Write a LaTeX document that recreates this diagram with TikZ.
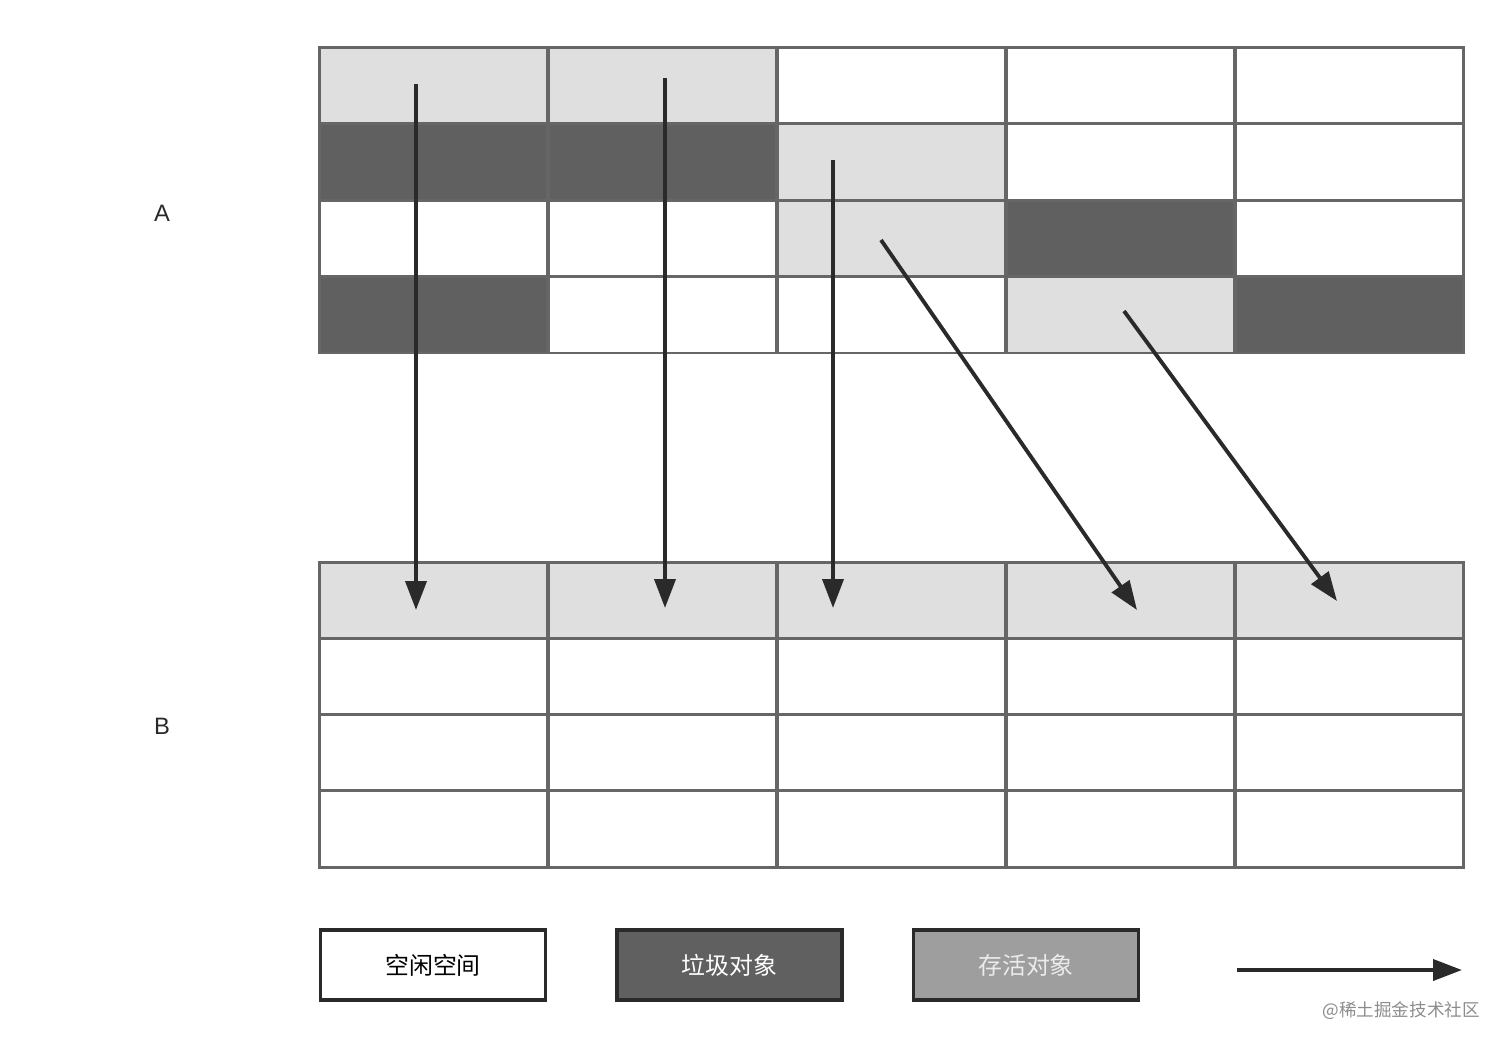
\documentclass[tikz,border=0pt]{standalone}
\usepackage{fontspec}
\setmainfont{Liberation Sans}
\newfontfamily\cjk{Noto Sans CJK SC}
\usetikzlibrary{arrows.meta}
\definecolor{freecol}{HTML}{FFFFFF}
\definecolor{garbcol}{HTML}{606060}
\definecolor{livecol}{HTML}{DFDFDF}
\definecolor{keepcol}{HTML}{9E9E9E}
\definecolor{gridcol}{HTML}{666666}
\definecolor{movecol}{HTML}{2A2A2A}
\tikzset{
  cell/.style={draw=gridcol, line width=1.7pt, minimum width=4.58cm, minimum height=1.53cm, inner sep=0pt},
  keybox/.style={draw=movecol, line width=2.2pt, minimum width=4.5cm, minimum height=1.4cm, inner sep=0pt, font=\cjk\fontsize{13.6pt}{16pt}\selectfont},
  move/.style={draw=movecol, line width=2.2pt, -{Triangle[length=0.58cm, width=0.42cm]}},
  region/.style={font=\fontsize{13.5pt}{16pt}\selectfont, text=movecol}
}
\begin{document}
\begin{tikzpicture}[x=0.02cm, y=-0.02cm]
\useasboundingbox (0,0) rectangle (1512,1049);

% A
\foreach \r/\list in {1/{livecol,livecol,freecol,freecol,freecol},
                      2/{garbcol,garbcol,livecol,freecol,freecol},
                      3/{freecol,freecol,livecol,garbcol,freecol},
                      4/{garbcol,freecol,freecol,livecol,garbcol}}
  \foreach \k [count=\c] in \list
    \node[cell, fill=\k] (A-\r-\c) at ({319+229*(\c-0.5)}, {47+76.5*(\r-0.5)}) {};

% B
\foreach \r/\list in {1/{livecol,livecol,livecol,livecol,livecol},
                      2/{freecol,freecol,freecol,freecol,freecol},
                      3/{freecol,freecol,freecol,freecol,freecol},
                      4/{freecol,freecol,freecol,freecol,freecol}}
  \foreach \k [count=\c] in \list
    \node[cell, fill=\k] (B-\r-\c) at ({319+229*(\c-0.5)}, {563+76*(\r-0.5)}) {};

\node[region] (labA) at (162,213) {A};
\node[region] (labB) at (162,726) {B};

% moves
\coordinate (from1) at (416,84);
\coordinate (to1) at (416,610);
\coordinate (from2) at (665,78);
\coordinate (to2) at (665,608);
\coordinate (from3) at (833,160);
\coordinate (to3) at (833,608);
\coordinate (from4) at (881,240);
\coordinate (to4) at (1137,610);
\coordinate (from5) at (1124,311);
\coordinate (to5) at (1337,601);
\foreach \i in {1,...,5}
  \draw[move] (from\i) -- (to\i);

% legend
\node[keybox, fill=white] (key-free) at (433,965) {空闲空间};
\node[keybox, fill=garbcol, text=white] (key-garb) at (729.5,965) {垃圾对象};
\node[keybox, fill=keepcol, text=white!92!black] (key-live) at (1026,965) {存活对象};
\coordinate (key-a) at (1237,970);
\coordinate (key-b) at (1462,970);
\draw[move] (key-a) -- (key-b);

\node[anchor=east, text=black!45, font=\cjk\fontsize{10pt}{12pt}\selectfont] (mark) at (1486,1011) {@稀土掘金技术社区};
\end{tikzpicture}
\end{document}
